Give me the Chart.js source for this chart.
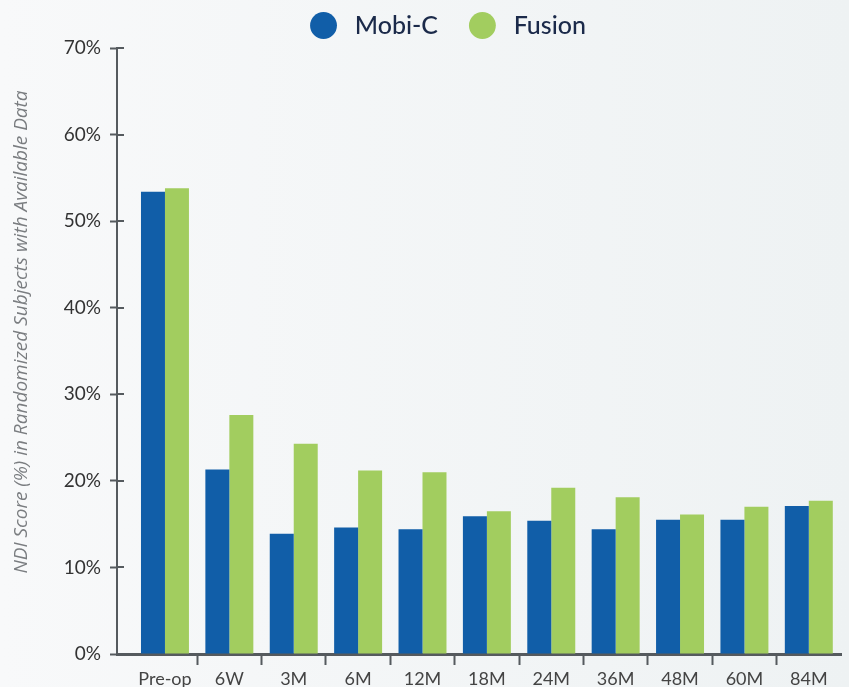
<!DOCTYPE html>
<html>
<head>
<meta charset="utf-8">
<title>NDI Score</title>
<script src="https://cdn.jsdelivr.net/npm/chart.js@4.4.1/dist/chart.umd.min.js"></script>
<style>
    html, body { margin: 0; padding: 0; }
    body { width: 849px; height: 687px; overflow: hidden;
           background: linear-gradient(to right, #f8f9fa, #eef2f3); }
    #wrap { position: relative; width: 849px; height: 687px; }
</style>
</head>
<body>
<div id="wrap"><canvas id="ndiChart"></canvas></div>
<script>
// Chart data
const categories = ['Pre-op', '6W', '3M', '6M', '12M', '18M', '24M', '36M', '48M', '60M', '84M'];
const mobiC = [53.4, 21.3, 13.9, 14.6, 14.4, 15.9, 15.4, 14.4, 15.5, 15.5, 17.1];
const fusion = [53.8, 27.6, 24.3, 21.2, 21.0, 16.5, 19.2, 18.1, 16.1, 17.0, 17.7];
const yTicks = [0, 10, 20, 30, 40, 50, 60, 70];
const seriesNames = ['Mobi-C', 'Fusion'];
const axisTitle = 'NDI Score (%) in Randomized Subjects with Available Data';

const AXIS = '#555a5e';
const PAD_LEFT = 56;   // pushes the legend's centre to the right, like the original

// Tick marks on the y axis cross the axis line, so draw the inner half too
const innerTicks = {
    id: 'innerTicks',
    afterDraw(chart) {
        const ctx = chart.ctx;
        const y = chart.scales.y;
        const left = chart.chartArea.left;
        ctx.save();
        ctx.strokeStyle = AXIS;
        ctx.lineWidth = 2;
        yTicks.forEach(v => {
            const py = Math.round(y.getPixelForValue(v));
            ctx.beginPath();
            ctx.moveTo(left, py);
            ctx.lineTo(left + 7, py);
            ctx.stroke();
        });
        ctx.restore();
    }
};

const toPoints = arr => arr.map((v, i) => ({ x: i, y: v }));

const ctx = document.getElementById('ndiChart').getContext('2d');

new Chart(ctx, {
    type: 'bar',
    data: {
        datasets: [
            {
                label: seriesNames[0],
                data: toPoints(mobiC),
                backgroundColor: '#115ea8',
                borderWidth: 0
            },
            {
                label: seriesNames[1],
                data: toPoints(fusion),
                backgroundColor: '#a2cd5f',
                borderWidth: 0
            }
        ]
    },
    options: {
        responsive: true,
        maintainAspectRatio: false,
        animation: false,
        barPercentage: 1.0,
        categoryPercentage: 0.745,
        layout: { padding: { top: 3, right: 8, left: PAD_LEFT, bottom: 0 } },
        plugins: {
            tooltip: { enabled: false },
            legend: {
                position: 'top',
                align: 'center',
                labels: {
                    usePointStyle: true,
                    pointStyle: 'circle',
                    boxHeight: 19,
                    padding: 10,
                    color: '#1b2a4a',
                    font: { family: 'Lato', size: 25, weight: '500' },
                    generateLabels(chart) {
                        return chart.data.datasets.map((ds, i) => ({
                            // spaces only widen the gaps between marker and text
                            text: '\u2005' + ds.label + (i === 0 ? '\u2003\u2009' : ''),
                            fillStyle: ds.backgroundColor,
                            strokeStyle: ds.backgroundColor,
                            lineWidth: 0,
                            pointStyle: 'circle',
                            fontColor: '#1b2a4a',
                            datasetIndex: i,
                            hidden: false
                        }));
                    }
                }
            }
        },
        scales: {
            x: {
                type: 'linear',
                offset: false,
                min: -0.745,
                max: 10.5,
                afterBuildTicks(scale) {
                    scale.ticks = categories.map((c, i) => ({ value: i }));
                },
                afterFit(scale) {
                    scale.height = 33;
                },
                ticks: {
                    autoSkip: false,
                    maxRotation: 0,
                    padding: 3,
                    color: '#444',
                    font: { family: 'Lato', size: 18 },
                    callback: v => categories[v] ?? ''
                },
                grid: {
                    offset: true,
                    drawOnChartArea: false,
                    tickLength: 11,
                    tickWidth: 2,
                    tickColor: c => (c.index === undefined || c.index === 0) ? 'rgba(0,0,0,0)' : AXIS
                },
                border: { color: AXIS, width: 3 }
            },
            y: {
                min: 0,
                max: 70,
                afterBuildTicks(scale) {
                    scale.ticks = yTicks.map(v => ({ value: v }));
                },
                afterFit(scale) {
                    scale.width = 117 - PAD_LEFT;
                },
                ticks: {
                    padding: 9,
                    color: '#333',
                    font: { family: 'Lato', size: 19 },
                    callback: v => v + '%'
                },
                grid: {
                    drawOnChartArea: false,
                    tickLength: 7,
                    tickWidth: 2,
                    tickColor: AXIS
                },
                border: { color: AXIS, width: 2 },
                title: {
                    display: true,
                    // leading spaces nudge the title up to where it sits in the original
                    text: '\u2003\u2003' + axisTitle,
                    color: '#7a7d80',
                    padding: { top: 10 - PAD_LEFT, bottom: 0 },
                    font: { family: 'Open Sans', size: 19, style: 'italic' }
                }
            }
        }
    },
    plugins: [innerTicks]
});
</script>
</body>
</html>
